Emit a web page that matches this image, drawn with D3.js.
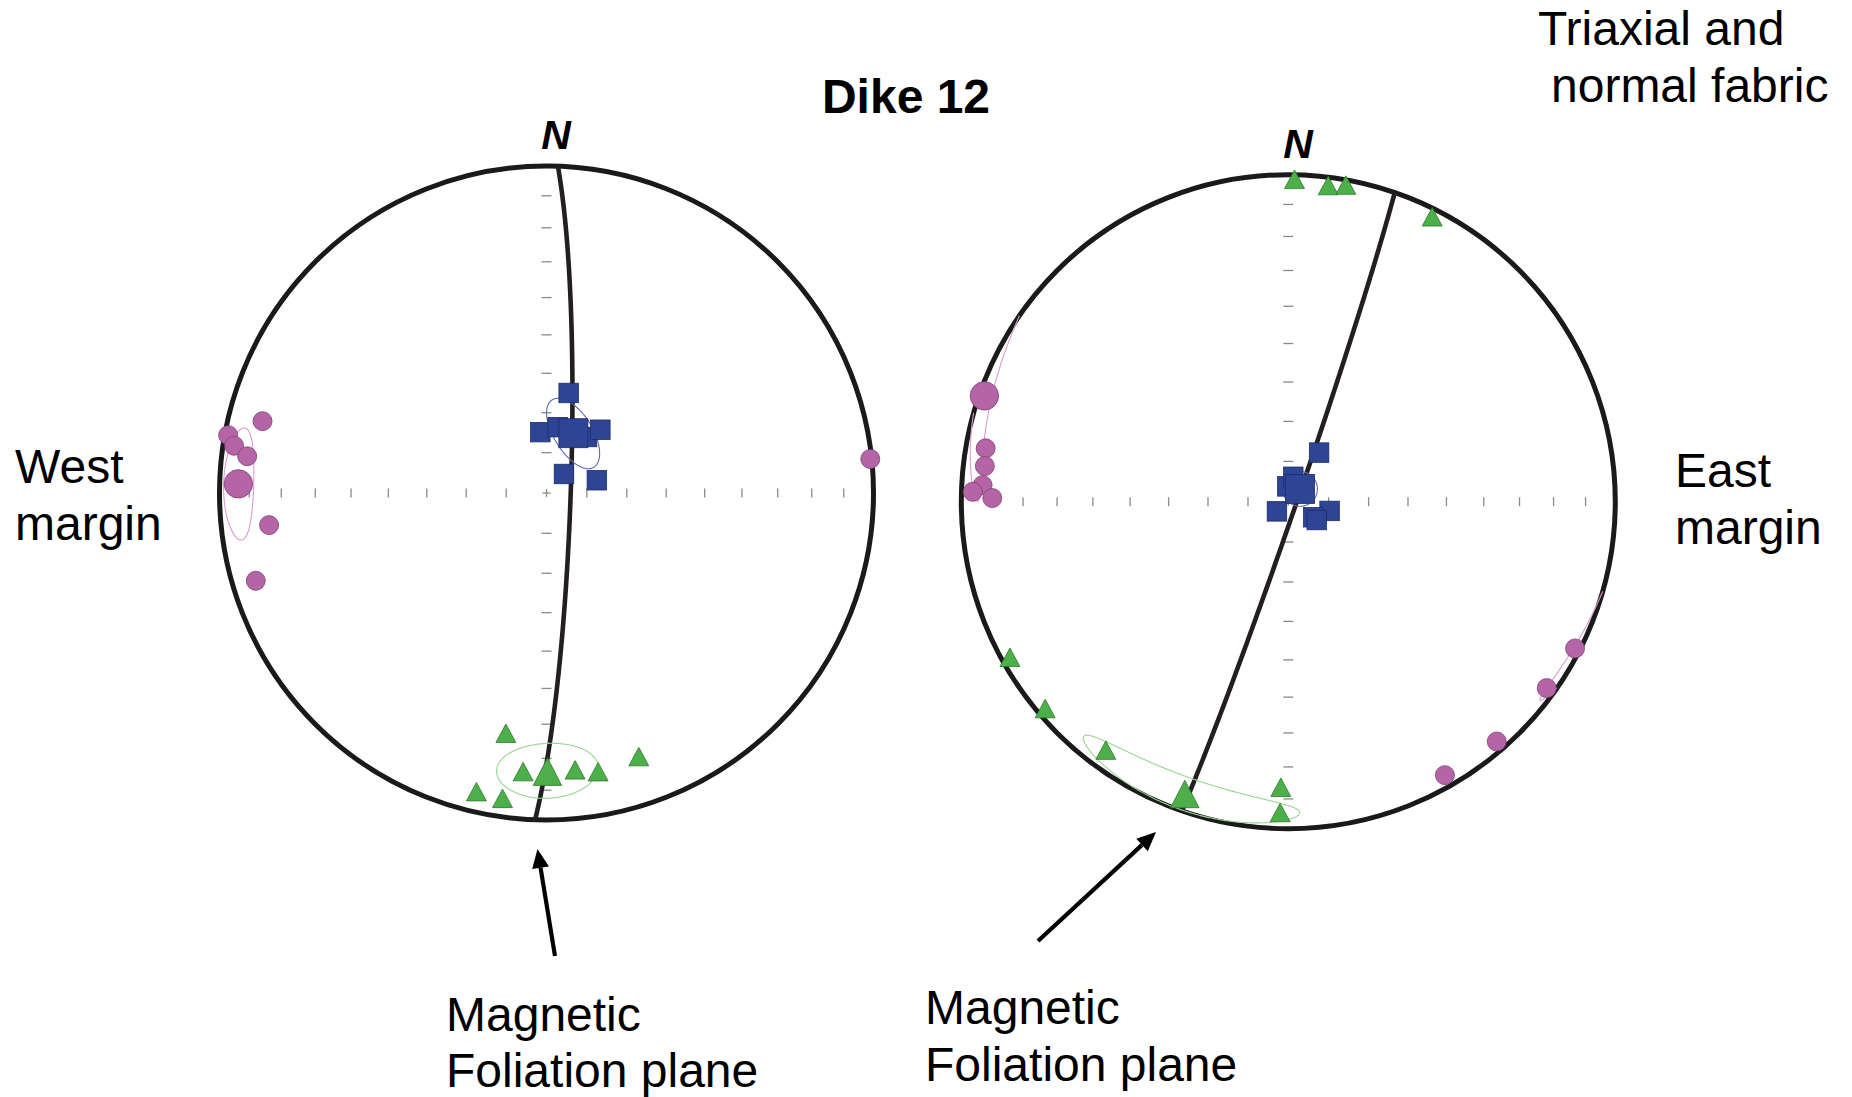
<!DOCTYPE html>
<html>
<head>
<meta charset="utf-8">
<script src="https://cdn.jsdelivr.net/npm/d3@7"></script>
<style>
  html, body { margin: 0; padding: 0; background: #fff; }
  svg { display: block; }
  text { font-family: "Liberation Sans", Arial, Helvetica, sans-serif; fill: #000; }
</style>
</head>
<body>
<svg id="chart" width="1852" height="1097"></svg>
<script>
// AMS principal axes of Dike 12, lower-hemisphere equal-area net.
// Every direction is [declination, inclination] in degrees.

// West margin
const westK1 = [[12.5, 64.4], [354.2, 74.8], [9.6, 73.4], [35.9, 72.8], [40.4, 69.3], [42.6, 83.6], [75.8, 77.1]];
const westK1Mean = [24.2, 73.7];
const westK2 = [[189.6, 26.4], [184.8, 15.6], [174.1, 16.0], [169.5, 14.4], [160.7, 15.7], [193.2, 6.9], [188.2, 6.3]];
const westK2Mean = [179.8, 15.9];
const westK3 = [[284.2, 11.4], [280.3, 1.2], [278.6, 3.8], [277.0, 8.6], [263.4, 15.7], [253.2, 7.9], [84.0, 0.5]];
const westK3Mean = [271.7, 6.4];
// confidence ellipses: semi-axes a, b (deg), rot = major-axis angle from the radial direction (deg)
const westConfidence = [
  { axis: "K1", mean: westK1Mean, a: 9.8, b: 4.8, rot: -55 },
  { axis: "K2", mean: westK2Mean, a: 10.1, b: 8.5, rot: 80 },
  { axis: "K3", mean: westK3Mean, a: 10.4, b: 5.0, rot: 90 }
];
const westFoliation = { strike: 2, dip: 84 };

// East margin
const eastK1 = [[32.1, 75.6], [356.4, 86.2], [11.3, 83.7], [229.6, 86.3], [102.6, 79.5], [121.9, 82.7], [122.8, 81.6]];
const eastK1Mean = [42.7, 85.7];
const eastK2 = [[1.1, 1.6], [7.2, 2.9], [10.3, 1.8], [26.8, 2.7], [216.3, 6.4], [181.5, 13.7], [181.5, 5.5], [240.8, 2.8], [229.6, 2.7]];
const eastK2Mean = [199.5, 5.8];
const eastK3 = [[280.0, 6.7], [276.7, 7.3], [273.1, 7.1], [271.8, 3.9], [270.7, 10.4], [117.1, 1.7], [125.8, 2.9], [139.0, 3.2], [150.2, 4.1]];
const eastK3Mean = [289.2, 1.8];
const eastConfidence = [
  { axis: "K1", mean: eastK1Mean, a: 4.3, b: 4.3, rot: 0 },
  { axis: "K2", mean: eastK2Mean, a: 21.5, b: 5.5, rot: 90 },
  { axis: "K3", mean: eastK3Mean, a: 19.5, b: 2.5, rot: 78 }
];
const eastFoliation = { strike: 19, dip: 88 };

// graticule ticks along the N-S and E-W diameters (inclination, deg)
const incTicks = [80, 70, 60, 50, 40, 30, 20, 10];

// ---------------------------------------------------------------------------
const rad = Math.PI / 180;
const R = 327;
const colors = {
  K1: { fill: "#2e4596", stroke: "#1e2c6a", ellipse: "#5b6cb0" },
  K2: { fill: "#4caf4a", stroke: "#2e7a2c", ellipse: "#98d693" },
  K3: { fill: "#b565a7", stroke: "#7c4172", ellipse: "#d89ccd" }
};

function toVec(dec, inc) {
  const d = dec * rad, i = inc * rad;
  return [Math.cos(i) * Math.sin(d), Math.cos(i) * Math.cos(d), Math.sin(i)];
}
function cross(p, q) {
  return [p[1] * q[2] - p[2] * q[1], p[2] * q[0] - p[0] * q[2], p[0] * q[1] - p[1] * q[0]];
}
function unit(v) { const l = Math.hypot(...v); return v.map(x => x / l); }

// Schmidt (equal-area) projection of a (east, north, down) vector, in net radii
function project(v) {
  const [e, n, z] = unit(v);
  const theta = Math.acos(Math.max(-1, Math.min(1, z)));
  const rho = Math.SQRT2 * Math.sin(theta / 2);
  const h = Math.hypot(e, n);
  if (h < 1e-12) return [0, 0];
  return [rho * e / h, rho * n / h];
}
const projectDir = d => project(toVec(d[0], d[1]));

// great circle of a plane
function planeTrace(strike, dip) {
  const S = toVec(strike, 0), D = toVec(strike + 90, dip);
  return d3.range(0, 181, 1).map(k => {
    const t = k * rad;
    return project(S.map((s, j) => Math.cos(t) * s + Math.sin(t) * D[j]));
  });
}

// elliptical confidence cone around a mean; upper-hemisphere parts are plotted as antipodes
function coneTraces(mean, a, b, rot) {
  const m = toVec(mean[0], mean[1]);
  const th = unit(cross([0, 0, 1], m));
  const tv = cross(m, th);
  const r = rot * rad;
  const u = tv.map((x, j) => Math.cos(r) * x + Math.sin(r) * th[j]);
  const w = tv.map((x, j) => -Math.sin(r) * x + Math.cos(r) * th[j]);
  const ta = Math.tan(a * rad), tb = Math.tan(b * rad);
  const segs = [];
  let cur = [], prevUp = null;
  for (let k = 0; k <= 720; k++) {
    const t = k * 0.5 * rad;
    let v = m.map((x, j) => x + ta * Math.cos(t) * u[j] + tb * Math.sin(t) * w[j]);
    const up = v[2] < 0;
    if (up) v = v.map(x => -x);
    if (prevUp !== null && up !== prevUp) { segs.push(cur); cur = []; }
    cur.push(project(v));
    prevUp = up;
  }
  segs.push(cur);
  if (segs.length > 1) {
    const last = segs.pop();
    segs[0] = last.concat(segs[0]);
  }
  return segs;
}

const svg = d3.select("#chart");
svg.append("rect").attr("width", 1852).attr("height", 1097).attr("fill", "#fff");

function drawNet(cfg) {
  const x = d3.scaleLinear().domain([-1, 1]).range([cfg.cx - R, cfg.cx + R]);
  const y = d3.scaleLinear().domain([-1, 1]).range([cfg.cy + R, cfg.cy - R]);
  const line = d3.line().x(p => x(p[0])).y(p => y(p[1])).curve(d3.curveLinear);
  const g = svg.append("g");

  // graticule ticks
  const tg = g.append("g").attr("stroke", "#8a8a8a").attr("stroke-width", 1.3);
  [0, 90, 180, 270].forEach(az => {
    incTicks.forEach(inc => {
      const p = projectDir([az, inc]);
      const px = x(p[0]), py = y(p[1]);
      if (az === 0 || az === 180) {
        tg.append("line").attr("x1", px - 5).attr("x2", px + 5).attr("y1", py).attr("y2", py);
      } else {
        tg.append("line").attr("x1", px).attr("x2", px).attr("y1", py - 4.5).attr("y2", py + 4.5);
      }
    });
  });
  tg.append("line").attr("x1", x(0) - 4).attr("x2", x(0) + 4).attr("y1", y(0)).attr("y2", y(0));
  tg.append("line").attr("x1", x(0)).attr("x2", x(0)).attr("y1", y(0) - 4).attr("y2", y(0) + 4);

  // primitive circle
  g.append("circle").attr("cx", x(0)).attr("cy", y(0)).attr("r", x(1) - x(0))
    .attr("fill", "none").attr("stroke", "#1a1a1a").attr("stroke-width", 5);

  // magnetic foliation plane
  g.append("path").attr("d", line(planeTrace(cfg.plane.strike, cfg.plane.dip)))
    .attr("fill", "none").attr("stroke", "#231f20").attr("stroke-width", 4.6);

  // confidence ellipses
  cfg.confidence.forEach(c => {
    coneTraces(c.mean, c.a, c.b, c.rot).forEach(seg => {
      g.append("path").attr("d", line(seg)).attr("fill", "none")
        .attr("stroke", colors[c.axis].ellipse).attr("stroke-width", 1.1);
    });
  });

  // K3: circles
  const k3 = cfg.k3.map(d => ({ d, r: 9.5 })).concat([{ d: cfg.k3Mean, r: 14.2 }]);
  g.append("g").selectAll("circle").data(k3).join("circle")
    .attr("cx", o => x(projectDir(o.d)[0])).attr("cy", o => y(projectDir(o.d)[1]))
    .attr("r", o => o.r)
    .attr("fill", colors.K3.fill).attr("stroke", colors.K3.stroke).attr("stroke-width", 0.8);

  // K2: triangles
  const k2 = cfg.k2.map(d => ({ d, w: 20, h: 18.5 })).concat([{ d: cfg.k2Mean, w: 28.5, h: 27.5 }]);
  g.append("g").selectAll("path").data(k2).join("path")
    .attr("d", o => {
      const p = projectDir(o.d), px = x(p[0]), py = y(p[1]);
      return `M${px},${py - o.h / 2}L${px + o.w / 2},${py + o.h / 2}L${px - o.w / 2},${py + o.h / 2}Z`;
    })
    .attr("fill", colors.K2.fill).attr("stroke", colors.K2.stroke).attr("stroke-width", 0.8);

  // K1: squares
  const k1 = cfg.k1.map(d => ({ d, s: 19.5 })).concat([{ d: cfg.k1Mean, s: 29 }]);
  g.append("g").selectAll("rect").data(k1).join("rect")
    .attr("x", o => x(projectDir(o.d)[0]) - o.s / 2).attr("y", o => y(projectDir(o.d)[1]) - o.s / 2)
    .attr("width", o => o.s).attr("height", o => o.s)
    .attr("fill", colors.K1.fill).attr("stroke", colors.K1.stroke).attr("stroke-width", 0.8);

  // north label
  g.append("text").attr("x", cfg.nx).attr("y", cfg.ny).attr("text-anchor", "middle")
    .attr("font-size", 41).attr("font-weight", "bold").attr("font-style", "italic").text("N");
}

drawNet({
  cx: 546.5, cy: 493, nx: 556, ny: 149,
  k1: westK1, k1Mean: westK1Mean, k2: westK2, k2Mean: westK2Mean, k3: westK3, k3Mean: westK3Mean,
  confidence: westConfidence, plane: westFoliation
});
drawNet({
  cx: 1288.3, cy: 501.7, nx: 1298, ny: 158,
  k1: eastK1, k1Mean: eastK1Mean, k2: eastK2, k2Mean: eastK2Mean, k3: eastK3, k3Mean: eastK3Mean,
  confidence: eastConfidence, plane: eastFoliation
});

// titles and labels
function label(lines, x0, y0, dy, opts = {}) {
  const t = svg.append("text").attr("font-size", opts.size || 48)
    .attr("font-weight", opts.weight || "normal").attr("text-anchor", opts.anchor || "start");
  lines.forEach((s, i) => {
    t.append("tspan").attr("x", Array.isArray(x0) ? x0[i] : x0).attr("y", y0 + i * dy).text(s);
  });
}
label(["Dike 12"], 906, 113, 0, { weight: "bold", size: 48, anchor: "middle" });
label(["Triaxial and", "normal fabric"], [1538, 1551], 45, 57);
label(["West", "margin"], 15, 483, 57);
label(["East", "margin"], 1675, 487, 57);
label(["Magnetic", "Foliation plane"], 446, 1031, 56);
label(["Magnetic", "Foliation plane"], 925, 1024, 57);

// arrows pointing at the foliation planes
function arrow(x1, y1, x2, y2) {
  const ang = Math.atan2(y2 - y1, x2 - x1), L = 19, hw = 8.5;
  const bx = x2 - L * Math.cos(ang), by = y2 - L * Math.sin(ang);
  svg.append("line").attr("x1", x1).attr("y1", y1).attr("x2", bx).attr("y2", by)
    .attr("stroke", "#000").attr("stroke-width", 4.2);
  const nx = -Math.sin(ang), ny = Math.cos(ang);
  svg.append("path")
    .attr("d", `M${x2},${y2}L${bx + nx * hw},${by + ny * hw}L${bx - nx * hw},${by - ny * hw}Z`)
    .attr("fill", "#000");
}
arrow(555, 956, 537.5, 849);
arrow(1038, 941, 1156, 832);
</script>
</body>
</html>
